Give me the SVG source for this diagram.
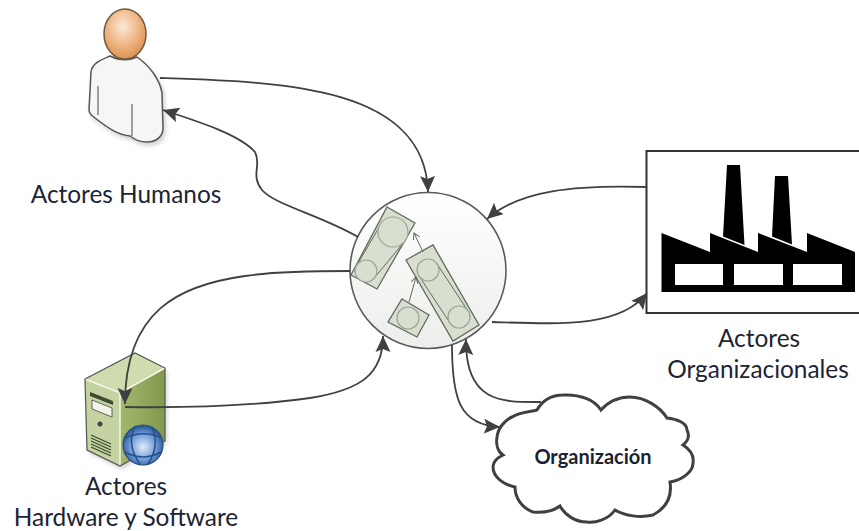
<svg xmlns="http://www.w3.org/2000/svg" width="859" height="531" viewBox="0 0 859 531">
<style>
.lbl{font-family:"Lato","Open Sans",sans-serif;font-size:24.400px;fill:#1c2433;text-anchor:middle}
.conn{fill:none;stroke:#404040;stroke-width:1.8;marker-end:url(#arrow)}
.box{fill:#d9dfd0;stroke:#5f6a5c;stroke-width:1.3}
.dot{fill:#d9dfd0;stroke:#9aa596;stroke-width:1.2}
.link{fill:none;stroke:#5f6a5c;stroke-width:1}
.mini{fill:none;stroke:#5f6a5c;stroke-width:1;marker-end:url(#tiny)}
</style>
<defs>
<marker id="arrow" markerUnits="userSpaceOnUse" markerWidth="18" markerHeight="16" refX="16" refY="8" orient="auto"><path d="M0,0.500L16,8L0,15.500L3,8Z" fill="#404040"/></marker>
<marker id="tiny" markerUnits="userSpaceOnUse" markerWidth="7" markerHeight="8" refX="6" refY="4" orient="auto"><path d="M0,0.500L6,4L0,7.500" fill="none" stroke="#5f6a5c" stroke-width="1"/></marker>
<filter id="soft" x="-10%" y="-10%" width="125%" height="125%"><feDropShadow dx="2" dy="3" stdDeviation="2" flood-color="#000" flood-opacity="0.18"/></filter>
<radialGradient id="head" cx="0.45" cy="0.35" r="0.7"><stop offset="0" stop-color="#fbe9d8"/><stop offset="0.5" stop-color="#f0b98a"/><stop offset="1" stop-color="#d98c45"/></radialGradient>
<linearGradient id="ball" x1="0" y1="0" x2="0" y2="1"><stop offset="0" stop-color="#ffffff"/><stop offset="1" stop-color="#ededeb"/></linearGradient>
<linearGradient id="srvR" x1="0" y1="0" x2="1" y2="0"><stop offset="0" stop-color="#a3b86f"/><stop offset="1" stop-color="#82994c"/></linearGradient>
<radialGradient id="globe" cx="0.5" cy="0.55" r="0.55"><stop offset="0" stop-color="#e3ecf8"/><stop offset="0.6" stop-color="#6f9ad6"/><stop offset="1" stop-color="#23508f"/></radialGradient>
</defs>

<g id="human">
<path filter="url(#soft)" d="M110,56C101,60 92,63 91,72L89,110Q89,114 95,118C108,128 118,135 130,136C135,140 140,142 147,142C158,142 163,135 163,128L162,93C160,80 150,66 137,57Q124,63 110,56Z" fill="#f6f6f4" stroke="#555" stroke-width="1.5"/>
<path d="M98,86V115M132,104V136" fill="none" stroke="#666" stroke-width="1.2"/>
<ellipse cx="125" cy="34" rx="21" ry="25" fill="url(#head)" stroke="#6f5a44" stroke-width="1.5"/>
<text class="lbl" x="126" y="203">Actores Humanos</text>
</g>

<g id="hardware">
<path filter="url(#soft)" d="M85,379L135,353L165,368V441L120,466L87,450Z" fill="#c5d3a3"/>
<path d="M85,379L135,353L165,368L120,393Z" fill="#cfdcae"/>
<path d="M120,393L165,368V441L120,466Z" fill="url(#srvR)"/>
<path d="M85,379L120,393L165,368M120,393V466" fill="none" stroke="#f4f7ea" stroke-width="1.5"/>
<path d="M85,379L135,353L165,368V441L120,466L87,450Z" fill="none" stroke="#555" stroke-width="1.2"/>
<path d="M90,392L113,401V405L90,396Z" fill="#3d4a30"/>
<path d="M92,400L112,408V417L92,409Z" fill="#f1f4e6" stroke="#444" stroke-width="0.8"/>
<circle cx="100" cy="424" r="2.500" fill="#444"/>
<path d="M91,435L111,444M91,438L111,447M91,441L111,450M91,444L111,453M91,447L111,456" stroke="#3d4a30" stroke-width="1.3"/>
<circle cx="143" cy="445" r="20" fill="url(#globe)" stroke="#2c4a7c" stroke-width="1.2"/>
<path d="M125,438Q143,430 160,437M125,452Q143,462 161,452M135,426Q126,445 140,464M152,427Q160,446 148,464" fill="none" stroke="#23508f" stroke-width="1.5"/>
<text class="lbl" x="126" y="495">Actores</text>
<text class="lbl" x="126" y="526">Hardware y Software</text>
</g>

<g id="organizational">
<rect x="646.500" y="151" width="220" height="162" fill="#fff" stroke="#333" stroke-width="2"/>
<path d="M727,165H740L744.500,245L723,236.500ZM775,176H788L792,244.500L772,236.500Z" fill="#000"/>
<path fill-rule="evenodd" d="M661.500,233L710,252V233L758,252V233L807,252V233L855,252V292H661.500ZM675,264V285H723V264ZM734,264V285H783V264ZM793,264V285H842V264Z" fill="#000"/>
<text class="lbl" x="759" y="347">Actores</text>
<text class="lbl" x="758" y="378">Organizacionales</text>
</g>

<g id="organizacion">
<path d="M537,410C544,398 555,395 563,395C580,394 595,400 601,410C610,400 620,397 630,397C645,397 660,407 667,418C677,419 687,423 687,430C690,436 688,441 683,445C691,450 694,457 693,463C693,472 682,480 670,482C672,495 668,507 653,515C640,518 625,516 615,510C608,520 595,523 587,522C575,522 565,515 560,506C552,512 543,513 533,512C522,508 515,498 515,487C505,485 493,478 493,467C493,462 497,458 503,455C497,451 496,443 497,437C498,428 505,420 512,417C520,412 530,412 537,410Z" fill="#fff" stroke="#404040" stroke-width="3"/>
<text x="593" y="464" font-family="Lato,Open Sans,sans-serif" font-size="20" font-weight="700" fill="#1c2433" text-anchor="middle">Organización</text>
</g>

<g id="process">
<circle cx="428" cy="270.500" r="78" fill="url(#ball)" stroke="#5a5a5a" stroke-width="1.6"/>
<polygon class="box" points="387,207 415,223 377,289 351,275"/>
<path class="link" d="M381,224L357,265M405,241L375,277"/>
<circle class="dot" cx="393" cy="232" r="15"/>
<circle class="dot" cx="366" cy="271" r="11"/>
<polygon class="box" points="406,260 433,245 479,325 453,341"/>
<path class="link" d="M437,264L468,311M419,276L450,323"/>
<circle class="dot" cx="428" cy="270" r="11"/>
<circle class="dot" cx="459" cy="317" r="11"/>
<polygon class="box" points="402,299 429,315 417,337 388,322"/>
<circle class="dot" cx="408" cy="318" r="11"/>
<path class="mini" d="M423,252L414,233"/>
<path class="mini" d="M409,302L416,277"/>
</g>

<g id="connectors">
<path class="conn" d="M160,78C280,82 425,85 428,192"/>
<path class="conn" d="M358,237C320,215 275,205 262,190C250,175 262,165 255,152C240,135 200,122 163,110"/>
<path class="conn" d="M350,271C300,271 270,272 245,276C180,285 125,310 125,404"/>
<path class="conn" d="M125,407C190,408 260,405 310,398C360,390 383,375 383,336"/>
<path class="conn" d="M646,187C575,185 520,190 487,219"/>
<path class="conn" d="M492,322C560,324 620,328 647,293"/>
<path class="conn" d="M452,345C452,400 460,425 500,427"/>
<path class="conn" d="M541,402C505,402 465,405 466,339"/>
</g>
</svg>
